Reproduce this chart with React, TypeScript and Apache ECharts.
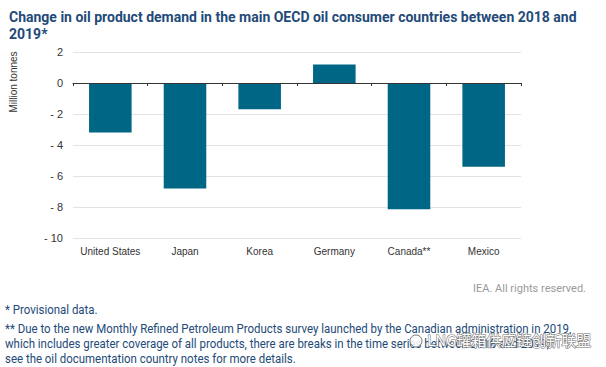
import React, { useEffect, useRef } from "react";
import * as echarts from "echarts";

const categories = ["United States", "Japan", "Korea", "Germany", "Canada**", "Mexico"];
const values = [-3.2, -6.8, -1.7, 1.2, -8.15, -5.4];
const yMin = -10;
const yMax = 2;
const yStep = 2;

const titleText = "Change in oil product demand in the main OECD oil consumer countries between 2018 and\n2019*";
const footnotes = [
  "* Provisional data.",
  "** Due to the new Monthly Refined Petroleum Products survey launched by the Canadian administration in 2019,",
  "which includes greater coverage of all products, there are breaks in the time series between 2018 and 2019;",
  "see the oil documentation country notes for more details.",
];

export default function App() {
  const ref = useRef<HTMLDivElement>(null);
  useEffect(() => {
    if (!ref.current) return;
    const chart = echarts.init(ref.current, null, { renderer: "svg" });
    const font = "Roboto, 'Liberation Sans', sans-serif";
    const axisFont = "'Liberation Sans', Arial, sans-serif";
    const blue = "#234a78";
    chart.setOption({
      animation: false,
      backgroundColor: "#ffffff",
      textStyle: { fontFamily: font },
      title: {
        text: titleText,
        left: 4,
        top: 3,
        textStyle: { fontFamily: font, fontSize: 14, fontWeight: "bold", color: blue, lineHeight: 17 },
      },
      grid: { left: 73, right: 85, top: 52, height: 186 },
      xAxis: {
        type: "category",
        data: categories,
        axisLine: { onZero: true, lineStyle: { color: "#333", width: 1 } },
        axisTick: { show: true, length: 3, lineStyle: { color: "#333" } },
        axisLabel: { interval: 0, color: "#333", fontSize: 10, fontFamily: axisFont, margin: 8 },
        z: 10,
      },
      yAxis: {
        type: "value",
        min: yMin,
        max: yMax,
        interval: yStep,
        axisLine: { show: false },
        axisTick: { show: false },
        splitLine: { lineStyle: { color: "#e3e3e3", width: 1 } },
        axisLabel: {
          color: "#333",
          fontSize: 11,
          fontFamily: axisFont,
          margin: 10,
          formatter: (v: number) => (v < 0 ? "- " + Math.abs(v) : String(v)),
        },
      },
      series: [
        {
          type: "bar",
          data: values,
          barWidth: "57%",
          itemStyle: { color: "#006685" },
        },
      ],
      graphic: [
        {
          type: "text",
          x: 13,
          y: 82,
          rotation: Math.PI / 2,
          style: {
            text: "Million tonnes",
            fill: "#333",
            fontSize: 10,
            fontFamily: axisFont,
            align: "center",
            verticalAlign: "middle",
          },
        },
        {
          type: "text",
          right: 20,
          top: 283,
          style: { text: "IEA. All rights reserved.", fill: "#9a9a9a", fontSize: 11, fontFamily: font },
        },
        ...footnotes.map((t, i) => ({
          type: "text",
          x: 5,
          y: [304, 323, 338, 353][i],
          scaleX: 0.955,
          style: { text: t, fill: blue, fontSize: 12, fontFamily: font },
        })),
        {
          type: "circle",
          shape: { cx: 416, cy: 341, r: 6 },
          style: { fill: "rgba(255,255,255,0.85)", stroke: "#777", lineWidth: 1 },
        },
        {
          type: "text",
          x: 427,
          y: 332,
          style: {
            text: "LNG罐箱供应链创新联盟",
            fill: "#ffffff",
            stroke: "#6a6a6a",
            lineWidth: 1,
            fontSize: 15,
            fontFamily: "'Noto Sans CJK SC', sans-serif",
          },
        },
      ],
    });
    return () => chart.dispose();
  }, []);
  return (
    <div
      ref={ref}
      style={{ position: "absolute", left: 0, top: 0, width: 606, height: 367 }}
    />
  );
}
